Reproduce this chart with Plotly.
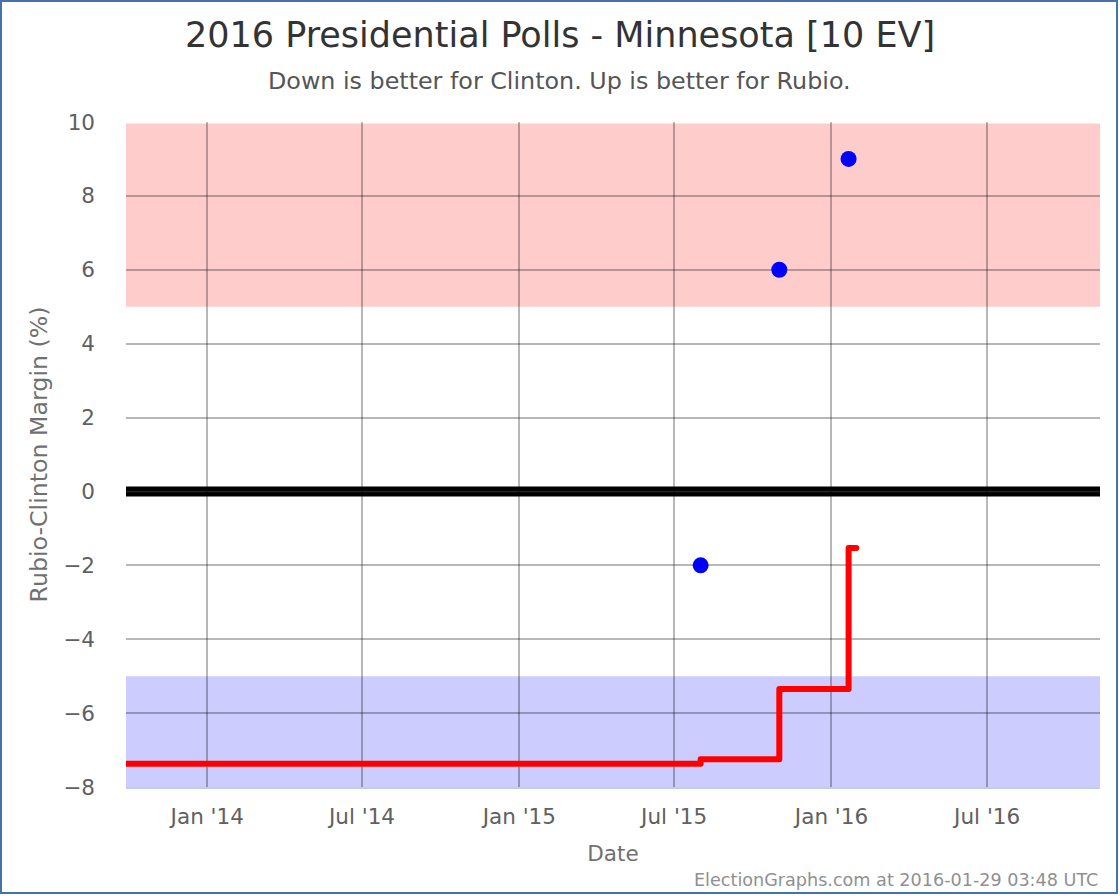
import plotly.graph_objects as go

title = "2016 Presidential Polls - Minnesota [10 EV]"
subtitle = "Down is better for Clinton. Up is better for Rubio."
credit = "ElectionGraphs.com at 2016-01-29 03:48 UTC"
poll_dates = ["2015-08-01", "2015-11-01", "2016-01-21"]
poll_margins = [-2, 6, 9]
avg_dates = ["2013-09-27", "2015-08-01", "2015-08-01", "2015-11-01", "2015-11-01",
             "2016-01-21", "2016-01-21", "2016-01-30"]
avg_margins = [-7.37, -7.37, -7.25, -7.25, -5.35, -5.35, -1.53, -1.53]
x_range = ["2013-09-28", "2016-11-10"]
x_ticks = ["2014-01-01", "2014-07-01", "2015-01-01", "2015-07-01", "2016-01-01", "2016-07-01"]
x_labels = ["Jan '14", "Jul '14", "Jan '15", "Jul '15", "Jan '16", "Jul '16"]
y_ticks = [-8, -6, -4, -2, 0, 2, 4, 6, 8, 10]

W, H = 1120, 896
L, R, T, B = 126, 1100, 122, 787
FONT = "DejaVu Sans"
GRID = "rgba(0,0,0,0.28)"

fig = go.Figure()
fig.add_trace(go.Scatter(x=avg_dates, y=avg_margins, mode="lines",
                         line=dict(color="#ff0000", width=6), cliponaxis=False,
                         hoverinfo="skip", showlegend=False))
fig.add_trace(go.Scatter(x=poll_dates, y=poll_margins, mode="markers",
                         marker=dict(color="#0000ff", size=16), cliponaxis=False,
                         showlegend=False))

fig.add_shape(type="rect", xref="paper", yref="y", x0=0, x1=1, y0=5, y1=9.96,
              fillcolor="#ffcccc", line_width=0, layer="below")
fig.add_shape(type="rect", xref="paper", yref="y", x0=0, x1=1, y0=-8, y1=-5,
              fillcolor="#ccccff", line_width=0, layer="below")
fig.add_shape(type="line", xref="paper", yref="y", x0=0, x1=1, y0=0, y1=0,
              line=dict(color="#000000", width=10), layer="between")
fig.add_shape(type="line", xref="paper", yref="y", x0=0, x1=1, y0=0, y1=0,
              line=dict(color="#333333", width=1.5), layer="between")
# Outer frame of the chart, expressed relative to the plot area
fig.add_shape(type="rect", xref="paper", yref="paper",
              x0=(1 - L) / (R - L), x1=(W - 3 - L) / (R - L),
              y0=(B - (H - 3)) / (B - T), y1=(B - 1) / (B - T),
              line=dict(color="#4572a7", width=2), fillcolor="rgba(0,0,0,0)", layer="above")

fig.add_annotation(text=title, xref="paper", yref="paper", x=(560 - L) / (R - L),
                   y=(B - 35) / (B - T), showarrow=False, xanchor="center", yanchor="middle",
                   font=dict(family=FONT, size=35, color="#333333"))
fig.add_annotation(text=subtitle, xref="paper", yref="paper", x=(559 - L) / (R - L),
                   y=(B - 81) / (B - T), showarrow=False, xanchor="center", yanchor="middle",
                   font=dict(family=FONT, size=23.8, color="#555555"))
fig.add_annotation(text=credit, xref="paper", yref="paper", x=(1100 - L) / (R - L),
                   y=(B - 880) / (B - T), showarrow=False, xanchor="right", yanchor="middle",
                   font=dict(family=FONT, size=17.6, color="#909090"))

fig.update_layout(
    width=W, height=H, autosize=False,
    margin=dict(l=L, r=W - R, t=T, b=H - B, pad=0),
    paper_bgcolor="#ffffff", plot_bgcolor="rgba(0,0,0,0)",
    font=dict(family=FONT, color="#606060"),
    showlegend=False,
    xaxis=dict(type="date", range=x_range, tickmode="array", tickvals=x_ticks, ticktext=x_labels,
               showgrid=True, gridcolor=GRID, gridwidth=2, zeroline=False,
               showline=True, linecolor="#c0d0e0", linewidth=2, ticks="",
               ticklabelstandoff=9,
               tickfont=dict(size=21.5, color="#606060"),
               title=dict(text="Date", font=dict(size=21.5, color="#707070"), standoff=18)),
    yaxis=dict(range=[-8, 10], tickmode="array", tickvals=y_ticks,
               tickformat="d", showgrid=True, gridcolor=GRID, gridwidth=2, zeroline=False,
               showline=False, ticks="", ticklen=0, ticklabelstandoff=30,
               tickfont=dict(size=21.5, color="#606060"),
               title=dict(text="Rubio-Clinton Margin (%)", font=dict(size=23.7, color="#707070"), standoff=9)),
)
post = """
document.body.style.margin = '0';
document.querySelectorAll('.js-line').forEach(function (p) {
  p.style.strokeLinecap = 'round';
  p.style.strokeLinejoin = 'round';
});
"""
fig.write_html("out.html", post_script=post, config=dict(displayModeBar=False))
